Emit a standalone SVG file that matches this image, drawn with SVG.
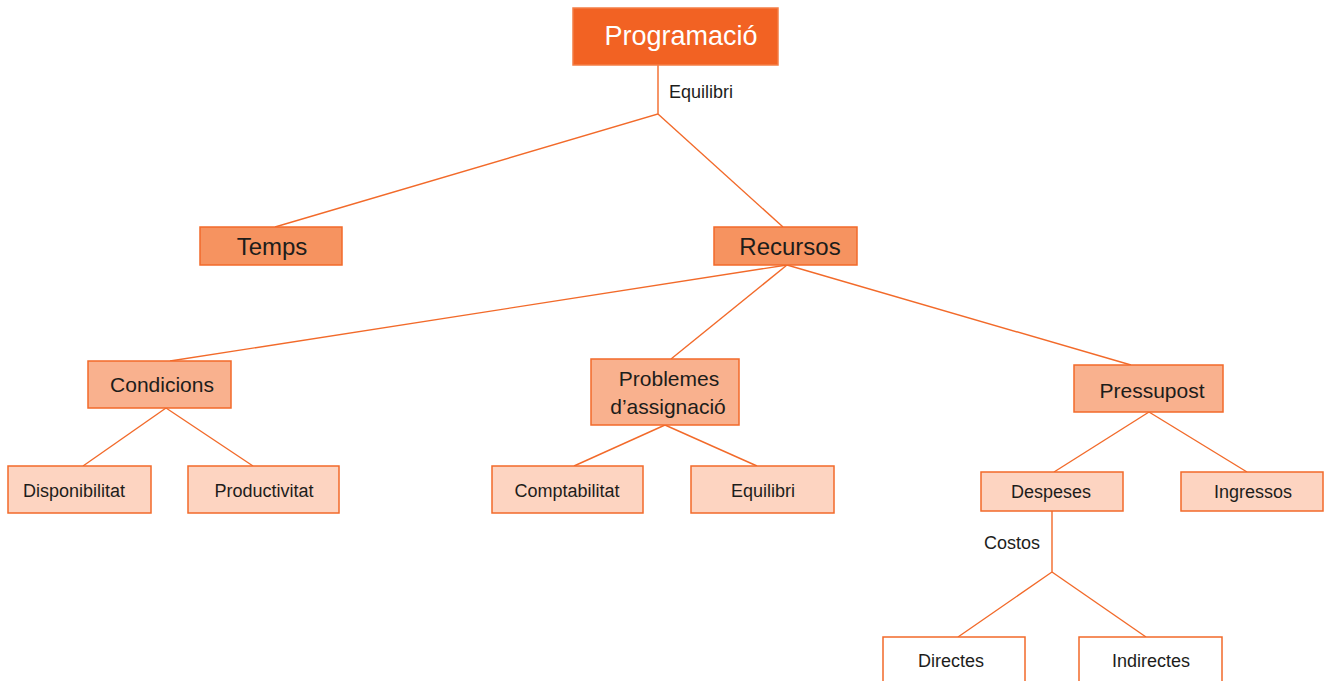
<svg xmlns="http://www.w3.org/2000/svg" width="1328" height="681" viewBox="0 0 1328 681">
<style>
text{font-family:"Liberation Sans",Arial,sans-serif;fill:#1d1d1b;text-anchor:middle}
.l1{fill:#f26223;stroke:#f47e45;stroke-width:1.5}
.l2{fill:#f69360;stroke:#f26a2a;stroke-width:1.5}
.l3{fill:#f9b18e;stroke:#f26a2a;stroke-width:1.5}
.l4{fill:#fdd4c1;stroke:#f26a2a;stroke-width:1.5}
.l5{fill:#ffffff;stroke:#f26a2a;stroke-width:1.5}
.t1{font-size:27px;fill:#ffffff}
.t2{font-size:24px}
.t3{font-size:21px}
.t4{font-size:18px}
.conn line,.conn polyline{stroke:#f26a2a;stroke-width:1.4;fill:none}
</style>
<g class="conn">
<polyline points="658,65 658,114 275,227"/>
<line x1="658" y1="114" x2="783" y2="227"/>
<line x1="787" y1="265" x2="170" y2="361"/>
<line x1="787" y1="265" x2="671" y2="359"/>
<line x1="787" y1="265" x2="1131" y2="365"/>
<line x1="166" y1="408" x2="83" y2="466"/>
<line x1="166" y1="408" x2="253" y2="466"/>
<line x1="665" y1="425" x2="574" y2="466"/>
<line x1="665" y1="425" x2="757" y2="466"/>
<line x1="1149" y1="412" x2="1054" y2="472"/>
<line x1="1149" y1="412" x2="1247" y2="472"/>
<polyline points="1052,511 1052,572 958,637"/>
<line x1="1052" y1="572" x2="1146" y2="637"/>
<text x="669" y="98" class="t4" style="text-anchor:start">Equilibri</text>
<text x="984" y="549" class="t4" style="text-anchor:start">Costos</text>
</g>
<g id="programacio"><rect x="573" y="8" width="205" height="57" class="l1"/><text x="681" y="45" class="t1">Programació</text></g>
<g id="temps"><rect x="200" y="227" width="142" height="38" class="l2"/><text x="272" y="255" class="t2">Temps</text></g>
<g id="recursos"><rect x="714" y="227" width="143" height="38" class="l2"/><text x="790" y="255" class="t2">Recursos</text></g>
<g id="condicions"><rect x="88" y="361" width="143" height="47" class="l3"/><text x="162" y="392" class="t3">Condicions</text></g>
<g id="problemes"><rect x="591" y="359" width="148" height="66" class="l3"/><text x="669" y="386" class="t3">Problemes</text><text x="668" y="414" class="t3">d’assignació</text></g>
<g id="pressupost"><rect x="1074" y="365" width="149" height="47" class="l3"/><text x="1152" y="398" class="t3">Pressupost</text></g>
<g id="disponibilitat"><rect x="8" y="466" width="143" height="47" class="l4"/><text x="74" y="497" class="t4">Disponibilitat</text></g>
<g id="productivitat"><rect x="188" y="466" width="151" height="47" class="l4"/><text x="264" y="497" class="t4">Productivitat</text></g>
<g id="comptabilitat"><rect x="492" y="466" width="151" height="47" class="l4"/><text x="567" y="497" class="t4">Comptabilitat</text></g>
<g id="equilibri"><rect x="691" y="466" width="143" height="47" class="l4"/><text x="763" y="497" class="t4">Equilibri</text></g>
<g id="despeses"><rect x="981" y="472" width="142" height="39" class="l4"/><text x="1051" y="498" class="t4">Despeses</text></g>
<g id="ingressos"><rect x="1181" y="472" width="142" height="39" class="l4"/><text x="1253" y="498" class="t4">Ingressos</text></g>
<g id="directes"><rect x="883" y="637" width="142" height="60" class="l5"/><text x="951" y="667" class="t4">Directes</text></g>
<g id="indirectes"><rect x="1079" y="637" width="143" height="60" class="l5"/><text x="1151" y="667" class="t4">Indirectes</text></g>
</svg>
